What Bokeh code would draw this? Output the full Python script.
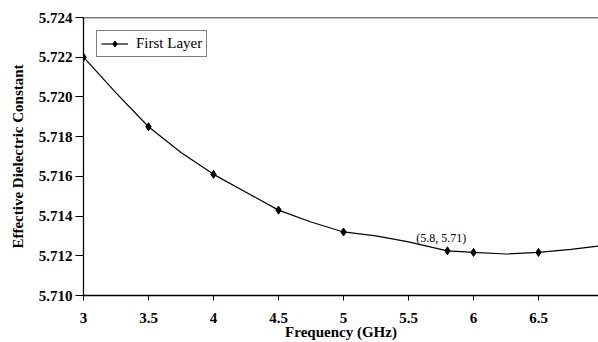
from bokeh.plotting import figure
from bokeh.models import (Range1d, FixedTicker, NumeralTickFormatter, PrintfTickFormatter,
                          Span, Label, Legend, LegendItem)
from bokeh.embed import file_html
from bokeh.resources import INLINE

# Data
freq = [3.0, 3.5, 4.0, 4.5, 5.0, 5.8, 6.0, 6.5]
eps = [5.7220, 5.7185, 5.7161, 5.7143, 5.7132, 5.71225, 5.71217, 5.71217]

# Smooth curve
curve_x = [3.0, 3.25, 3.5, 3.75, 4.0, 4.25, 4.5, 4.75, 5.0, 5.25, 5.5, 5.8,
           6.0, 6.25, 6.5, 6.75, 6.97]
curve_y = [5.7220, 5.7202, 5.7185, 5.7172, 5.7161, 5.7152, 5.7143, 5.7137,
           5.7132, 5.7130, 5.7127, 5.71225, 5.71217, 5.71209, 5.71217,
           5.71232, 5.7125]

x_ticks = [3, 3.5, 4, 4.5, 5, 5.5, 6, 6.5, 7]
y_ticks = [5.710, 5.712, 5.714, 5.716, 5.718, 5.720, 5.722, 5.724]

x_title = "Frequency (GHz)"
y_title = "Effective Dielectric Constant"
series_name = "First Layer"

annot_text = "(5.8, 5.71)"
annot_x = 5.56
annot_y = 5.7129

SERIF = "'Liberation Serif'"

p = figure(width=598, height=342, output_backend="svg", toolbar_location=None,
           x_range=Range1d(3, 6.9615), y_range=Range1d(5.710, 5.724),
           min_border_left=83, min_border_right=0, min_border_top=17,
           min_border_bottom=46)
p.outline_line_color = None
p.background_fill_color = "white"
p.border_fill_color = "white"
p.xgrid.visible = False
p.ygrid.visible = False

# axes
p.xaxis.ticker = FixedTicker(ticks=x_ticks)
p.xaxis.formatter = NumeralTickFormatter(format="0.[0]")
p.yaxis.ticker = FixedTicker(ticks=y_ticks)
p.yaxis.formatter = PrintfTickFormatter(format="%.3f")
for ax in (p.xaxis[0], p.yaxis[0]):
    ax.axis_line_color = "black"
    ax.axis_line_width = 1.3
    ax.major_tick_line_color = "black"
    ax.major_tick_in = 0
    ax.minor_tick_line_color = None
    ax.major_label_text_font = SERIF
    ax.major_label_text_font_style = "bold"
    ax.major_label_text_font_size = "15px"
    ax.major_label_text_color = "black"
    ax.axis_label_text_font = SERIF
    ax.axis_label_text_font_style = "bold"
    ax.axis_label_text_font_size = "15px"
    ax.axis_label_text_color = "black"
p.xaxis.major_tick_out = 5
p.yaxis.major_tick_out = 8
p.xaxis.major_label_standoff = 12
p.yaxis.major_label_standoff = 3
p.yaxis.axis_label = y_title
p.yaxis.axis_label_standoff = 10
p.xaxis.axis_label = x_title
p.xaxis.axis_label_standoff = -2

# top border line
p.add_layout(Span(location=5.724, dimension="width", line_color="black", line_width=1.3))

# series
ln = p.line(curve_x, curve_y, line_color="black", line_width=1.2)
mk = p.scatter(freq, eps, marker="diamond", size=8, fill_color="black", line_color="black")

legend = Legend(items=[LegendItem(label=series_name, renderers=[ln, mk])],
                location="top_left", margin=13, padding=4, spacing=0,
                glyph_width=27, glyph_height=15, label_height=15, label_standoff=8,
                label_text_font=SERIF, label_text_font_size="15px",
                label_text_color="black",
                border_line_color="black", border_line_width=1.2,
                background_fill_alpha=1.0)
p.add_layout(legend, "center")

p.add_layout(Label(x=annot_x, y=annot_y, text=annot_text, text_font=SERIF,
                   text_font_size="12px", text_baseline="middle", text_align="left",
                   text_color="black"))

open("out.html", "w").write(file_html(p, INLINE))
